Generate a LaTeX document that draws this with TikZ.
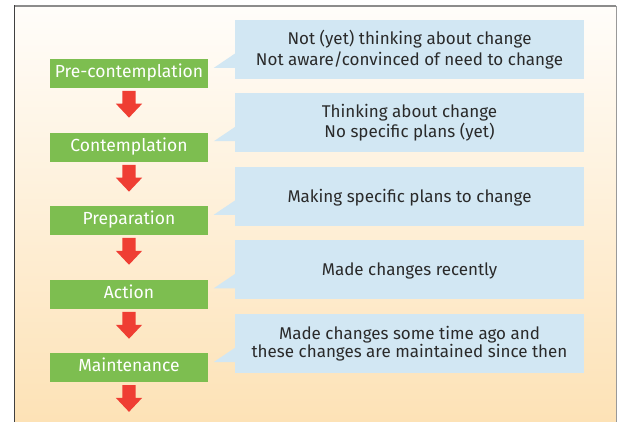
\documentclass[tikz,border=0pt]{standalone}
\usepackage{fontspec}
\setmainfont{Fira Sans}
\usetikzlibrary{calc}

\definecolor{stagegreen}{HTML}{7DBE50}
\definecolor{noteblue}{HTML}{D2E7F3}
\definecolor{steparrow}{HTML}{EF3E33}
\definecolor{textdark}{HTML}{2A2A2A}
\definecolor{bgtop}{HTML}{FFFDFA}
\definecolor{bgbottom}{HTML}{FDE2B6}

\tikzset{
  stage/.style={fill=stagegreen, text=white, minimum width=158pt, minimum height=28.7pt,
    inner sep=0pt, text height=10pt, text depth=1.8pt,
    font=\fontsize{17.5}{20}\selectfont},
  note/.style={fill=noteblue, text=textdark, minimum width=349pt, minimum height=58.7pt,
    inner sep=0pt, align=center, font=\fontsize{17}{20.7}\selectfont},
  oneline/.style={text height=12pt, text depth=0pt},
  tightlines/.style={font=\fontsize{17}{15.7}\selectfont},
  pics/downarrow/.style={code={
    \fill[steparrow] (-6.7,3) -- (6.7,3) -- (6.7,15.8) -- (13.2,15.8) -- (0,29.8)
      -- (-13.2,15.8) -- (-6.7,15.8) -- cycle;}},
}

\begin{document}
\begin{tikzpicture}[x=1pt, y=-1pt]
  \useasboundingbox (0,0) rectangle (617,422);
  % panel background and frame
  \shade[top color=bgtop, bottom color=bgbottom] (14.5,6) rectangle (616,422);
  \draw[line width=1.5pt, black!45] (14.5,6) -- (616,6);
  \draw[line width=1pt, black!40] (616,6) -- (616,422);
  \draw[line width=1.5pt, black!75] (14.5,5.3) -- (14.5,422);

  % stages
  \node[stage] (pre)  at (129,73.3)  {Pre-contemplation};
  \node[stage] (con)  at (129,147.3) {Contemplation};
  \node[stage] (prep) at (129,220.4) {Preparation};
  \node[stage] (act)  at (129,294.4) {Action};
  \node[stage] (main) at (129,367.5) {Maintenance};

  % descriptions
  \node[note] (npre)  at (409.5,49.3)  {Not (yet) thinking about change\\Not aware/convinced of need to change};
  \node[note] (ncon)  at (409.5,122.7) {Thinking about change\\No specific plans (yet)};
  \node[note, oneline] (nprep) at (409.5,196.2) {Making specific plans to change};
  \node[note, oneline] (nact)  at (409.5,269.7) {Made changes recently};
  \node[note, tightlines] (nmain) at (409.5,343.5)
    {Made changes some time ago and\\these changes are maintained since then};

  % callout pointers towards the stages
  \foreach \n in {npre,ncon,nprep,nact,nmain}
    \fill[noteblue] ($(\n.south west)+(0.5,-11)$) -- ++(-21.5,0) -- ++(21.5,-14.5) -- cycle;

  % transition arrows
  \foreach \s in {pre,con,prep,act,main}
    \pic at (\s.south) {downarrow};
\end{tikzpicture}
\end{document}
